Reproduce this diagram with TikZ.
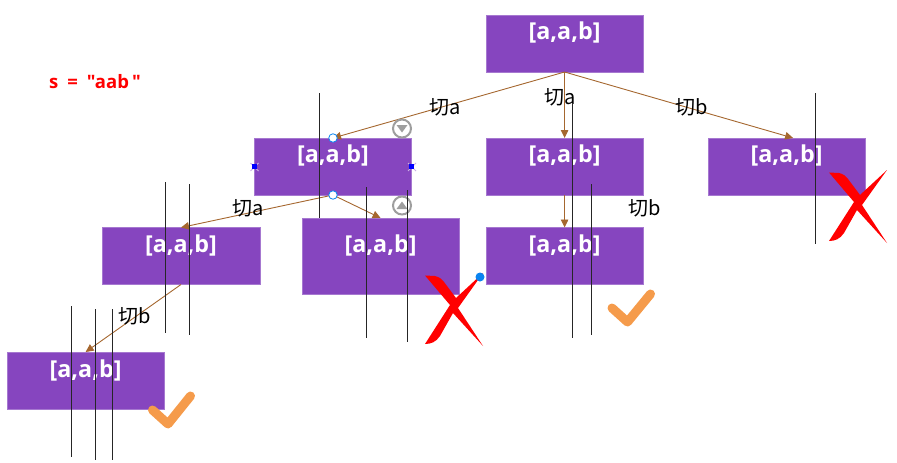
\documentclass[tikz,border=0pt]{standalone}
\usepackage{fontspec}
\setmainfont{Open Sans}
\newfontfamily\titlefont{Open Sans}
\newfontfamily\cjk{Noto Sans CJK SC}
\usetikzlibrary{arrows.meta,calc}
\definecolor{boxfill}{HTML}{8645BF}
\definecolor{boxedge}{HTML}{A678D0}
\definecolor{linkcol}{HTML}{A5672F}
\definecolor{okcol}{HTML}{F59B4B}
\definecolor{handlecol}{HTML}{0A84F0}
\tikzset{
  x=1pt,y=-1pt,
  stepbox/.style={draw=boxedge,line width=0.8pt,fill=boxfill,minimum width=156.8pt,minimum height=57pt,inner sep=0pt,outer sep=0pt},
  boxlabel/.style={text=white,font=\fontsize{23.3}{27}\bfseries\selectfont,inner sep=0pt},
  link/.style={draw=linkcol,line width=0.9pt,-{Triangle[length=8pt,width=7.5pt]}},
  cutlabel/.style={font=\cjk\fontsize{20}{24}\selectfont,inner sep=0pt,text=black},
  guide/.style={draw=black!85,line width=0.8pt},
  okmark/.style={draw=okcol,line width=9pt,line cap=round,line join=round},
  roundhandle/.style={circle,draw=handlecol,fill=white,line width=0.8pt,minimum size=8.5pt,inner sep=0pt},
  sizehandle/.style={rectangle,fill=blue,minimum size=5.5pt,inner sep=0pt},
  flip/.style={circle,draw=black!38,fill=white,line width=2pt,minimum size=18pt,inner sep=0pt},
  handlex/.style={draw=boxedge!60!white,line width=1pt},
}
\newcommand{\redcross}[2]{%
  \fill[red,shift={(#1,#2)}] (0,2.5) -- (10,3) .. controls (14,4) and (17,6) .. (19,9) -- (31,25) -- (58,0) -- (33,35) -- (58,73)
   -- (28,40) -- (15,63) .. controls (11,69) and (6,71) .. (0,71) -- (25,32) -- cycle;}
\begin{document}
\begin{tikzpicture}
\useasboundingbox (0,0) rectangle (897,463);
\node[stepbox] (root) at (564.6,43.5) {};
\node[stepbox] (bl) at (333,166.5) {};
\node[stepbox] (bm) at (564.6,166.5) {};
\node[stepbox] (br) at (786.6,166.5) {};
\node[stepbox,minimum width=158pt] (cl) at (181,256) {};
\node[stepbox,minimum height=76pt] (cm) at (380.6,256) {};
\node[stepbox] (cr) at (564.6,256) {};
\node[stepbox] (dl) at (85.6,380.5) {};

\node[boxlabel] (lroot) at (564.6,32.5) {[a,a,b]};
\node[boxlabel] (lbl) at (333,155.5) {[a,a,b]};
\node[boxlabel] (lbm) at (564.6,155.5) {[a,a,b]};
\node[boxlabel] (lbr) at (786.6,155.5) {[a,a,b]};
\node[boxlabel] (lcl) at (181,245.5) {[a,a,b]};
\node[boxlabel] (lcm) at (380.6,245.5) {[a,a,b]};
\node[boxlabel] (lcr) at (564.6,245.5) {[a,a,b]};
\node[boxlabel] (ldl) at (85.6,370.5) {[a,a,b]};

\coordinate (brin) at ($(br.north)+(6.5,0)$);
\draw[link] (root.south) -- (bl.north);
\draw[link] (root.south) -- (bm.north);
\draw[link] (root.south) -- (brin);
\draw[link] (bl.south) -- (cl.north);
\draw[link] (bl.south) -- (cm.north);
\draw[link] (bm.south) -- (cr.north);
\draw[link] (cl.south) -- (dl.north);

\node[cutlabel] (t1) at (445,107) {切a};
\node[cutlabel] (t2) at (560,97) {切a};
\node[cutlabel] (t3) at (691.5,107) {切b};
\node[cutlabel] (t4) at (248.5,208) {切a};
\node[cutlabel] (t5) at (644.5,208) {切b};
\node[cutlabel] (t6) at (134.5,316) {切b};

\node[font=\titlefont\fontsize{18.5}{22}\bfseries\selectfont,text=red,inner sep=0pt] (title) at (95,82) {s\hspace{9pt}=\hspace{9pt}"aab\,"};

\draw[guide] (319.5,93) -- (319.5,218);
\draw[guide] (366.5,187) -- (366.5,338);
\draw[guide] (407.5,190) -- (407.5,342);
\draw[guide] (165,182) -- (165,333);
\draw[guide] (189.5,184) -- (189.5,335);
\draw[guide] (71.5,306) -- (71.5,457);
\draw[guide] (95.5,309) -- (95.5,460);
\draw[guide] (112.5,309) -- (112.5,460);
\draw[guide] (572.5,103) -- (572.5,338);
\draw[guide] (591.5,184) -- (591.5,335);
\draw[guide] (815.5,93) -- (815.5,244);

\redcross{425}{273}
\redcross{829}{170}
\draw[okmark] (612,308) -- (627.5,322) -- (650.5,294);
\draw[okmark] (152.5,410) -- (168,424) -- (190.5,396);

\node[roundhandle] (h1) at (bl.north) {};
\node[roundhandle] (h2) at (bl.south) {};
\draw[handlex] (250.5,163) -- (258.5,171) (250.5,171) -- (258.5,163);
\draw[handlex] (408,163) -- (416,171) (408,171) -- (416,163);
\node[sizehandle] (h3) at (bl.west) {};
\node[sizehandle] (h4) at (bl.east) {};
\node[flip] (f1) at (402,128.5) {};
\node[flip] (f2) at (402,205.5) {};
\fill[black!38] (396.5,125) -- (407.5,125) -- (402,132.5) -- cycle;
\fill[black!38] (396.5,209) -- (407.5,209) -- (402,201.5) -- cycle;
\draw[guide] (407.5,190) -- (407.5,218);
\node[circle,fill=handlecol,minimum size=9pt,inner sep=0pt] (h5) at (480,277) {};
\end{tikzpicture}
\end{document}
